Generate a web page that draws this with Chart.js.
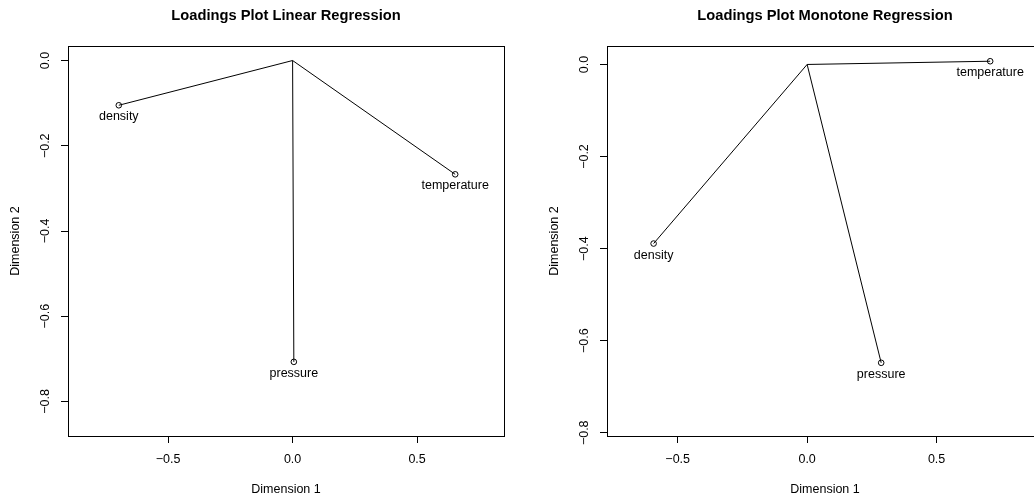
<!DOCTYPE html>
<html>
<head>
<meta charset="utf-8">
<title>Loadings Plots</title>
<script src="https://cdn.jsdelivr.net/npm/chart.js@4.4.1/dist/chart.umd.min.js"></script>
<style>
    html, body { margin: 0; padding: 0; background: #fff; overflow: hidden; width: 1034px; height: 498px; }
    .panel { position: absolute; top: 0; }
</style>
</head>
<body>
<div class="panel" style="left:0;"><canvas id="linearChart" width="517" height="498"></canvas></div>
<div class="panel" style="left:517px;"><canvas id="monotoneChart" width="540" height="498"></canvas></div>

<script>
// variables shown in both plots
const variables = ['density', 'temperature', 'pressure'];

// linear regression loadings
const linearDim1 = [-0.698, 0.653, 0.005];
const linearDim2 = [-0.105, -0.267, -0.707];

// monotone regression loadings
const monotoneDim1 = [-0.593, 0.707, 0.286];
const monotoneDim2 = [-0.389, 0.007, -0.648];

// tick labels
const xTicks = [-0.5, 0.0, 0.5];
const yTicks = [0.0, -0.2, -0.4, -0.6, -0.8];

// axis limits (as plotted)
const linearXRange = [-0.902, 0.849];
const linearYRange = [-0.881, 0.034];
const monotoneXRange = [-0.773, 0.911];
const monotoneYRange = [-0.807, 0.040];

const FONT = '"Liberation Sans", Arial, Helvetica, sans-serif';
Chart.defaults.font.family = FONT;
Chart.defaults.color = '#000';

const formatTick = v => (v < 0 ? '\u2212' : '') + Math.abs(v).toFixed(1);

// draws the full box around the plot region
const boxPlugin = {
    id: 'plotBox',
    afterDraw(chart) {
        const { ctx, chartArea: a } = chart;
        ctx.save();
        ctx.strokeStyle = '#000';
        ctx.lineWidth = 1;
        const l = Math.floor(a.left) + 0.5, t = Math.floor(a.top) + 0.5;
        const r = Math.floor(a.right) + 0.5, b = Math.floor(a.bottom) + 0.5;
        ctx.strokeRect(l, t, r - l, b - t);
        ctx.restore();
    }
};

// variable names under each loading point
const labelPlugin = {
    id: 'pointLabels',
    afterDatasetsDraw(chart) {
        const { ctx } = chart;
        ctx.save();
        ctx.font = '12.5px ' + FONT;
        ctx.fillStyle = '#000';
        ctx.textAlign = 'center';
        ctx.textBaseline = 'middle';
        chart.data.datasets.forEach((ds, i) => {
            const pt = chart.getDatasetMeta(i).data[1];
            if (pt) ctx.fillText(ds.label, pt.x, pt.y + 11.5);
        });
        ctx.restore();
    }
};

function buildLoadingsChart(canvasId, titleText, dim1, dim2, xRange, yRange, layout) {
    const datasets = variables.map((name, i) => ({
        label: name,
        data: [{ x: 0, y: 0 }, { x: dim1[i], y: dim2[i] }],
        showLine: true,
        borderColor: '#000',
        borderWidth: 1,
        pointRadius: [0, 2.8],
        pointBorderColor: '#000',
        pointBorderWidth: 1,
        pointBackgroundColor: 'rgba(0,0,0,0)'
    }));

    return new Chart(document.getElementById(canvasId), {
        type: 'scatter',
        data: { datasets },
        plugins: [boxPlugin, labelPlugin],
        options: {
            responsive: false,
            animation: false,
            devicePixelRatio: 1,
            layout: { padding: { left: 0, right: layout.right, top: 0, bottom: 0 } },
            plugins: {
                legend: { display: false },
                tooltip: { enabled: false },
                title: {
                    display: true,
                    text: titleText,
                    fullSize: false,
                    color: '#000',
                    font: { size: 14.7, weight: 'bold', family: FONT },
                    padding: { top: 6.7, bottom: 21.7 }
                }
            },
            scales: {
                x: {
                    type: 'linear',
                    min: xRange[0],
                    max: xRange[1],
                    afterBuildTicks: s => { s.ticks = xTicks.map(v => ({ value: v })); },
                    afterFit: s => { s.height = 62; },
                    border: { display: false },
                    grid: { display: true, drawOnChartArea: false, drawTicks: true, tickLength: 7, color: '#000' },
                    ticks: { callback: formatTick, padding: 9.5, font: { size: 12.5 }, color: '#000', maxRotation: 0 },
                    title: { display: true, text: 'Dimension 1', font: { size: 12.5 }, color: '#000', padding: { top: 0, bottom: 1 } }
                },
                y: {
                    type: 'linear',
                    min: yRange[0],
                    max: yRange[1],
                    afterBuildTicks: s => { s.ticks = yTicks.map(v => ({ value: v })); },
                    afterFit: s => { s.width = layout.yWidth; },
                    border: { display: false },
                    grid: { display: true, drawOnChartArea: false, drawTicks: true, tickLength: 7, color: '#000' },
                    ticks: { callback: formatTick, padding: 3.5, font: { size: 12.5 }, color: '#000', minRotation: 90, maxRotation: 90, crossAlign: 'center' },
                    title: { display: true, text: 'Dimension 2', font: { size: 12.5 }, color: '#000', padding: { top: layout.yTitlePad, bottom: 0 } }
                }
            }
        }
    });
}

buildLoadingsChart('linearChart', 'Loadings Plot Linear Regression',
    linearDim1, linearDim2, linearXRange, linearYRange,
    { right: 13, yWidth: 68, yTitlePad: 8.2 });

buildLoadingsChart('monotoneChart', 'Loadings Plot Monotone Regression',
    monotoneDim1, monotoneDim2, monotoneXRange, monotoneYRange,
    { right: 14, yWidth: 90, yTitlePad: 30 });
</script>
</body>
</html>
